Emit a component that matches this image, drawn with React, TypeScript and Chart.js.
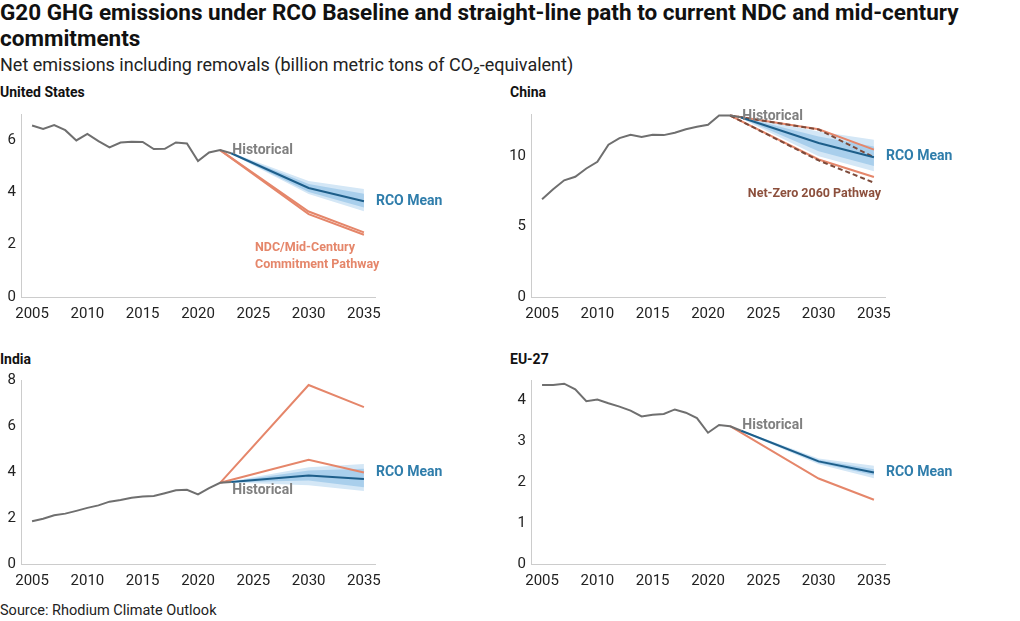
import React, { useEffect, useRef } from "react";
import { Chart, registerables } from "chart.js";

Chart.register(...registerables);

// ---------- data ----------
const histYears = [2005, 2006, 2007, 2008, 2009, 2010, 2011, 2012, 2013, 2014, 2015, 2016, 2017, 2018, 2019, 2020, 2021, 2022, 2023];
const projYears = [2023, 2030, 2035];
const pathYears = [2022, 2030, 2035];
const xTicks = [2005, 2010, 2015, 2020, 2025, 2030, 2035];

// United States
const usHist = [6.56, 6.43, 6.58, 6.38, 5.99, 6.24, 5.96, 5.72, 5.91, 5.94, 5.93, 5.66, 5.67, 5.91, 5.87, 5.2, 5.53, 5.62, 5.5];
const usMean = [5.5, 4.17, 3.66];
const usOuterHi = [5.53, 4.44, 4.13];
const usOuterLo = [5.47, 3.94, 3.28];
const usInnerHi = [5.52, 4.32, 3.95];
const usInnerLo = [5.48, 4.02, 3.42];
const usNdcHi = [5.62, 3.27, 2.47];
const usNdcLo = [5.62, 3.17, 2.38];
const usYTicks = [0, 2, 4, 6];

// China
const cnHist = [6.95, 7.65, 8.29, 8.54, 9.13, 9.6, 10.82, 11.29, 11.53, 11.36, 11.53, 11.5, 11.67, 11.92, 12.09, 12.23, 12.89, 12.89, 12.77];
const cnMean = [12.75, 10.94, 9.93];
const cnOuterHi = [12.82, 11.76, 11.17];
const cnOuterLo = [12.68, 10.0, 8.94];
const cnInnerHi = [12.79, 11.4, 10.7];
const cnInnerLo = [12.71, 10.35, 9.3];
const cnNdcHi = [12.89, 11.92, 10.47];
const cnNdcLo = [12.89, 9.77, 8.52];
const cnNzHi = [12.89, 11.9, 9.93];
const cnNzLo = [12.89, 9.7, 8.12];
const cnYTicks = [0, 5, 10];

// India
const inHist = [1.86, 1.97, 2.12, 2.19, 2.31, 2.44, 2.55, 2.71, 2.78, 2.88, 2.93, 2.96, 3.08, 3.21, 3.23, 3.03, 3.3, 3.53, 3.57];
const inMean = [3.57, 3.85, 3.7];
const inOuterHi = [3.6, 4.21, 4.35];
const inOuterLo = [3.54, 3.42, 3.17];
const inInnerHi = [3.59, 4.06, 4.14];
const inInnerLo = [3.55, 3.63, 3.34];
const inNdcHi = [3.53, 7.78, 6.82];
const inNdcLo = [3.53, 4.53, 3.98];
const inYTicks = [0, 2, 4, 6, 8];

// EU-27
const euHist = [4.38, 4.38, 4.41, 4.27, 3.98, 4.02, 3.93, 3.85, 3.75, 3.61, 3.65, 3.67, 3.78, 3.7, 3.57, 3.21, 3.4, 3.37, 3.26];
const euMean = [3.26, 2.51, 2.24];
const euOuterHi = [3.28, 2.58, 2.4];
const euOuterLo = [3.24, 2.44, 2.1];
const euInnerHi = [3.27, 2.55, 2.32];
const euInnerLo = [3.25, 2.47, 2.17];
const euNdc = [3.37, 2.09, 1.57];
const euYTicks = [0, 1, 2, 3, 4];

// ---------- styles ----------
const FONT = "Roboto";
const C_HIST = "#6f6f6f";
const C_HIST_TXT = "#808080";
const C_MEAN = "#1d5e8a";
const C_MEAN_TXT = "#2f7dab";
const C_OUTER = "#d4e7f6";
const C_INNER = "#a9cfec";
const C_NDC = "#e5866a";
const C_NZ = "#7d4a3a";
const C_NZ_TXT = "#8c4f3c";

const zip = (xs: number[], ys: number[]) => ys.map((y, i) => ({ x: xs[i], y }));

const notesPlugin = {
  id: "notes",
  afterDatasetsDraw(chart: any, _args: any, opts: any) {
    const { ctx } = chart;
    const xs = chart.scales.x;
    const ys = chart.scales.y;
    for (const n of opts.items || []) {
      ctx.save();
      ctx.font = `bold ${n.size}px ${FONT}`;
      ctx.fillStyle = n.color;
      ctx.textAlign = "left";
      ctx.textBaseline = "middle";
      const px = xs.getPixelForValue(n.x) + (n.dx || 0);
      const py = ys.getPixelForValue(n.y);
      n.lines.forEach((t: string, i: number) => ctx.fillText(t, px, py + i * (n.lh || 0)));
      ctx.restore();
    }
  },
};

function band(hi: number[], lo: number[], color: string, order: number) {
  return [
    { data: zip(projYears, hi), borderWidth: 0, backgroundColor: color, fill: "+1", order },
    { data: zip(projYears, lo), borderWidth: 0, backgroundColor: color, fill: false, order },
  ];
}
function line(xs: number[], ys: number[], color: string, order: number, dash?: number[]) {
  return { data: zip(xs, ys), borderColor: color, borderWidth: 2, fill: false, order, borderDash: dash || [] };
}

type PanelProps = {
  left: number; top: number; width: number; height: number; axisW: number;
  yMax: number; yTicks: number[]; datasets: any[]; notes: any[];
};

function Panel(p: PanelProps) {
  const ref = useRef<HTMLCanvasElement>(null);
  useEffect(() => {
    if (!ref.current) return;
    const tickFont = { family: FONT, size: 15 };
    const chart = new Chart(ref.current, {
      type: "line",
      data: { datasets: p.datasets },
      plugins: [notesPlugin],
      options: {
        animation: false,
        responsive: false,
        maintainAspectRatio: false,
        layout: { padding: { top: 12, right: p.width - p.axisW - 354, left: 0, bottom: 0 } },
        elements: { point: { radius: 0 }, line: { tension: 0 } },
        plugins: { legend: { display: false }, tooltip: { enabled: false }, notes: { items: p.notes } } as any,
        scales: {
          x: {
            type: "linear", min: 2004, max: 2036,
            grid: { display: false, drawTicks: false },
            border: { display: true, color: "#cccccc", width: 1 },
            ticks: { font: tickFont, color: "#222", padding: 8, maxRotation: 0, autoSkip: false, callback: (v: any) => String(v) },
            afterBuildTicks: (s: any) => { s.ticks = xTicks.map((v) => ({ value: v })); },
            afterFit: (s: any) => { s.height = 33; },
          },
          y: {
            type: "linear", min: 0, max: p.yMax,
            grid: { display: false, drawTicks: false },
            border: { display: true, color: "#cccccc", width: 1 },
            ticks: { font: tickFont, color: "#222", padding: 5, autoSkip: false },
            afterBuildTicks: (s: any) => { s.ticks = p.yTicks.map((v) => ({ value: v })); },
            afterFit: (s: any) => { s.width = p.axisW; },
          },
        },
      } as any,
    });
    return () => chart.destroy();
  }, []);
  return (
    <canvas ref={ref} width={p.width} height={p.height}
      style={{ position: "absolute", left: p.left, top: p.top, width: p.width, height: p.height }} />
  );
}

const histNote = (x: number, y: number) => ({ x, y, dx: 0, size: 14, color: C_HIST_TXT, lines: ["Historical"] });
const rcoNote = (y: number) => ({ x: 2035, y, dx: 12, size: 14, color: C_MEAN_TXT, lines: ["RCO Mean"] });

export default function App() {
  const usSets = [
    ...band(usOuterHi, usOuterLo, C_OUTER, 10),
    ...band(usInnerHi, usInnerLo, C_INNER, 9),
    line(pathYears, usNdcHi, C_NDC, 5),
    line(pathYears, usNdcLo, C_NDC, 5),
    line(projYears, usMean, C_MEAN, 3),
    line(histYears, usHist, C_HIST, 2),
  ];
  const cnSets = [
    ...band(cnOuterHi, cnOuterLo, C_OUTER, 10),
    ...band(cnInnerHi, cnInnerLo, C_INNER, 9),
    line(pathYears, cnNdcHi, C_NDC, 5),
    line(pathYears, cnNdcLo, C_NDC, 5),
    line(pathYears, cnNzHi, C_NZ, 4, [5, 3]),
    line(pathYears, cnNzLo, C_NZ, 4, [5, 3]),
    line(projYears, cnMean, C_MEAN, 3),
    line(histYears, cnHist, C_HIST, 2),
  ];
  const inSets = [
    ...band(inOuterHi, inOuterLo, C_OUTER, 10),
    ...band(inInnerHi, inInnerLo, C_INNER, 9),
    line(pathYears, inNdcHi, C_NDC, 5),
    line(pathYears, inNdcLo, C_NDC, 5),
    line(projYears, inMean, C_MEAN, 3),
    line(histYears, inHist, C_HIST, 2),
  ];
  const euSets = [
    ...band(euOuterHi, euOuterLo, C_OUTER, 10),
    ...band(euInnerHi, euInnerLo, C_INNER, 9),
    line(pathYears, euNdc, C_NDC, 5),
    line(projYears, euMean, C_MEAN, 3),
    line(histYears, euHist, C_HIST, 2),
  ];

  const panelTitle: React.CSSProperties = { position: "absolute", fontWeight: 700, fontSize: 14, lineHeight: "15px", color: "#111", whiteSpace: "nowrap" };

  return (
    <div style={{ position: "absolute", left: 0, top: 0, width: 1020, height: 621, background: "#fff", fontFamily: FONT, color: "#111", overflow: "hidden" }}>
      <div style={{ position: "absolute", left: 0, top: 0, fontWeight: 700, fontSize: 22.5, lineHeight: "25.5px", whiteSpace: "nowrap" }}>
        G20 GHG emissions under RCO Baseline and straight-line path to current NDC and mid-century<br />commitments
      </div>
      <div style={{ position: "absolute", left: 0, top: 55, fontSize: 18, lineHeight: "20px", color: "#222", whiteSpace: "nowrap" }}>
        Net emissions including removals (billion metric tons of CO₂-equivalent)
      </div>

      <div style={{ ...panelTitle, left: 0, top: 85 }}>United States</div>
      <div style={{ ...panelTitle, left: 510, top: 85 }}>China</div>
      <div style={{ ...panelTitle, left: 0, top: 352 }}>India</div>
      <div style={{ ...panelTitle, left: 510, top: 352 }}>EU-27</div>

      <Panel left={0} top={100} width={490} height={230} axisW={21} yMax={7} yTicks={usYTicks} datasets={usSets}
        notes={[
          histNote(2023.1, 5.6),
          rcoNote(3.67),
          { x: 2025.15, y: 1.89, dx: 0, size: 12.5, lh: 17, color: C_NDC, lines: ["NDC/Mid-Century", "Commitment Pathway"] },
        ]} />
      <Panel left={500} top={100} width={500} height={230} axisW={31} yMax={13} yTicks={cnYTicks} datasets={cnSets}
        notes={[
          histNote(2023.1, 12.84),
          rcoNote(9.98),
          { x: 2023.6, y: 7.33, dx: 0, size: 12.5, color: C_NZ_TXT, lines: ["Net-Zero 2060 Pathway"] },
        ]} />
      <Panel left={0} top={366} width={490} height={231} axisW={21} yMax={8} yTicks={inYTicks} datasets={inSets}
        notes={[histNote(2023.1, 3.18), rcoNote(4.0)]} />
      <Panel left={500} top={366} width={500} height={231} axisW={31} yMax={4.5} yTicks={euYTicks} datasets={euSets}
        notes={[histNote(2023.1, 3.39), rcoNote(2.25)]} />

      <div style={{ position: "absolute", left: 0, top: 602, fontSize: 14.5, lineHeight: "17px", color: "#222", whiteSpace: "nowrap" }}>
        Source: Rhodium Climate Outlook
      </div>
    </div>
  );
}
